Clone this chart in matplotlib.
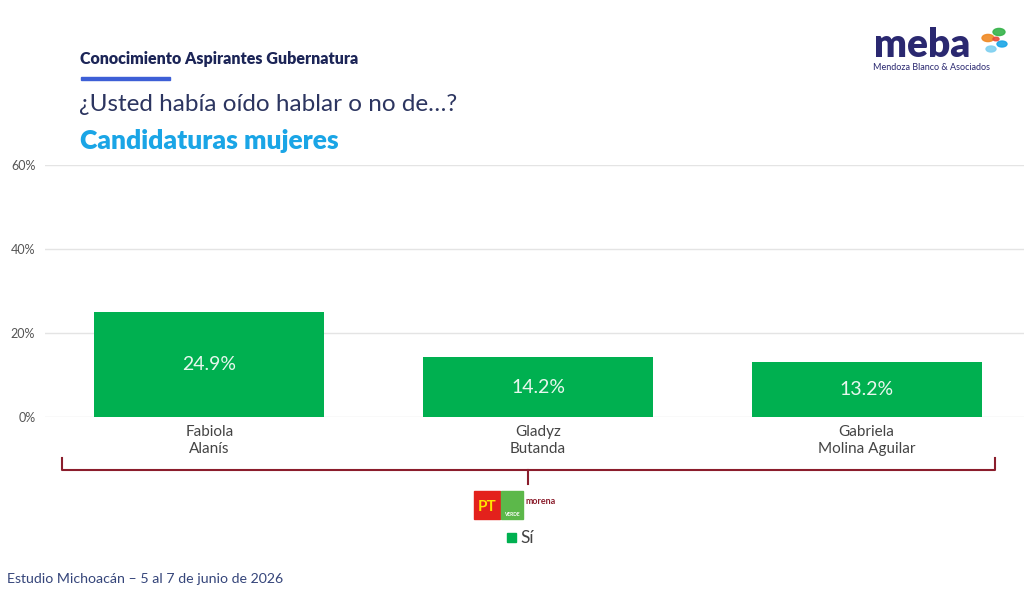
import matplotlib.pyplot as plt
from matplotlib.patches import Rectangle, Circle

# data
candidates = ["Fabiola\nAlanís", "Gladyz\nButanda", "Gabriela\nMolina Aguilar"]
si_values = [24.9, 14.2, 13.2]
yticks = [0, 20, 40, 60]

plt.rcParams['font.family'] = ['Lato', 'DejaVu Sans']

fig = plt.figure(figsize=(10.24, 6.12), dpi=100)
W, H = 1024, 612

def fx(px):
    return px / W

def fy(py):
    return 1 - py / H

# main bar axes
ax = fig.add_axes([fx(45), fy(417), fx(1031) - fx(45), fy(165) - fy(417)])
x = list(range(len(candidates)))
ax.bar(x, si_values, width=0.7, color='#00b050', zorder=3)
for xi, v in zip(x, si_values):
    ax.text(xi, v / 2, f"{v:.1f}%", ha='center', va='center', color='#e8f7ee',
            fontsize=14, zorder=4)
ax.set_xlim(-0.5, 2.5)
ax.set_ylim(0, 60)
ax.set_yticks(yticks)
ax.set_yticklabels([f"{t}%" for t in yticks], fontsize=9, color='#555555')
ax.set_xticks(x)
ax.set_xticklabels(candidates, fontsize=11, color='#444444', linespacing=1.2)
ax.tick_params(axis='x', length=0, pad=6)
ax.tick_params(axis='y', length=0, pad=7)
ax.grid(axis='y', color='#e4e4e4', linewidth=1, zorder=0)
for s in ax.spines.values():
    s.set_visible(False)

# header texts
fig.text(fx(80), fy(59), "Conocimiento Aspirantes Gubernatura", fontsize=11.5,
         fontweight='heavy', color='#1c2557', va='center')
fig.add_artist(Rectangle((fx(81), fy(80)), fx(89), 3.5 / H, color='#3d5fd6',
                         transform=fig.transFigure))
fig.text(fx(79), fy(104), "¿Usted había oído hablar o no de…?", fontsize=17.5,
         color='#2c3560', va='center')
fig.text(fx(80), fy(141), "Candidaturas mujeres", fontsize=19,
         fontweight='heavy', color='#1aa5e6', va='center')

# logo
fig.text(fx(874), fy(57), "meba", fontsize=28, fontweight='heavy', color='#2a2870',
         va='baseline')
fig.text(fx(873), fy(67), "Mendoza Blanco & Asociados", fontsize=6.5, color='#2a2870',
         va='center')
for (cx, cy, r, col) in [(988, 38, 6, '#f08a24'), (999, 32, 6, '#36b34a'),
                         (1002, 44, 5, '#1aa5e6'), (991, 49, 5, '#7fd0f0'),
                         (996, 39, 3, '#e84c3d')]:
    fig.add_artist(Circle((fx(cx), fy(cy)), r / W, color=col, alpha=0.9,
                          transform=fig.transFigure))

# brace under categories
brace = '#8b1d2c'
fig.add_artist(plt.Line2D([fx(62), fx(62), fx(995), fx(995)],
                          [fy(458), fy(470), fy(470), fy(458)],
                          color=brace, linewidth=1.5, transform=fig.transFigure))
fig.add_artist(plt.Line2D([fx(528), fx(528)], [fy(470), fy(484)],
                          color=brace, linewidth=1.5, transform=fig.transFigure))

# party logos
fig.add_artist(Rectangle((fx(474), fy(519)), fx(26), 28 / H, color='#e3211c',
                         transform=fig.transFigure))
fig.text(fx(487), fy(507), "PT", fontsize=11, fontweight='bold', color='#ffe600',
         ha='center', va='center')
fig.add_artist(Rectangle((fx(501), fy(519)), fx(22), 28 / H, color='#5cb84a',
                         transform=fig.transFigure))
fig.text(fx(512), fy(515), "VERDE", fontsize=3.5, fontweight='bold', color='white',
         ha='center', va='center')
fig.text(fx(526), fy(502), "morena", fontsize=6.5, fontweight='bold', color='#8b1d2c',
         va='center')

# legend
fig.add_artist(Rectangle((fx(507), fy(542)), fx(9), 9 / H, color='#00b050',
                         transform=fig.transFigure))
fig.text(fx(520), fy(538), "Sí", fontsize=12.5, color='#444444', va='center')

# footer
fig.text(fx(7), fy(579), "Estudio Michoacán – 5 al 7 de junio de 2026", fontsize=10.2,
         color='#35457a', va='center')

fig.savefig("out.png", dpi=100)
